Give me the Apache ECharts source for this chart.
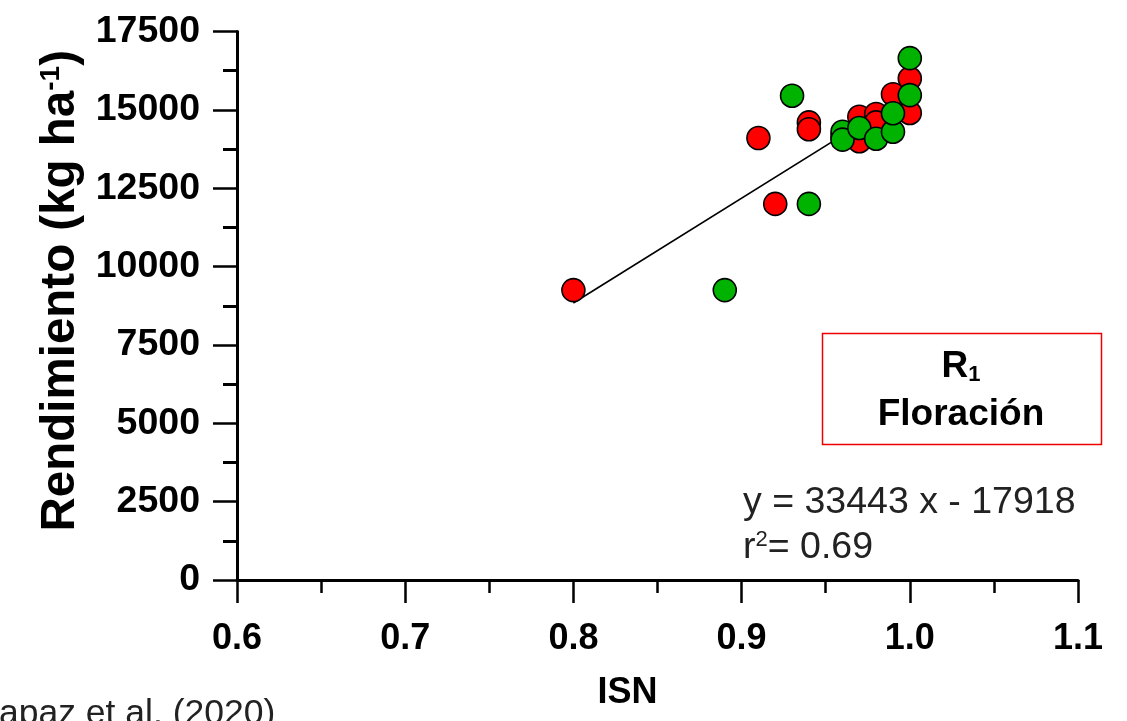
<!DOCTYPE html>
<html>
<head>
<meta charset="utf-8">
<script src="https://cdn.jsdelivr.net/npm/echarts@6/dist/echarts.min.js"></script>
<style>
  html, body { margin: 0; padding: 0; background: #fff; }
  #chart { width: 1127px; height: 721px; }
</style>
</head>
<body>
<div id="chart"></div>
<script>
// ISN (índice de suficiencia de nitrógeno) vs rendimiento, etapa R1
var xTicks = [0.6, 0.7, 0.8, 0.9, 1.0, 1.1];
var yTicks = [0, 2500, 5000, 7500, 10000, 12500, 15000, 17500];

// Tratamientos en rojo: [ISN, rendimiento kg/ha]
var redPoints = [
  [0.80, 9250], [0.91, 14100], [0.92, 12000], [0.94, 14600], [0.94, 14380],
  [0.96, 14150], [0.97, 14780], [0.97, 14000], [0.98, 14870], [0.98, 14600],
  [0.99, 15500], [1.00, 14900], [1.00, 16000]
];
// Tratamientos en verde
var greenPoints = [
  [0.89, 9250], [0.93, 15450], [0.94, 12000], [0.96, 14300], [0.96, 14050],
  [0.97, 14420], [0.98, 14080], [0.99, 14300], [0.99, 14890], [1.00, 15470],
  [1.00, 16650]
];

// Ajuste lineal y = a x + b
var fitSlope = 33443;
var fitIntercept = -17918;
var fitR2 = 0.69;
var fitRange = [0.80, 1.00];

var fitLine = fitRange.map(function (x) { return [x, fitSlope * x + fitIntercept]; });

var FONT = "'Liberation Sans', Arial, Helvetica, sans-serif";
var chart = echarts.init(document.getElementById('chart'), null, { renderer: 'canvas' });

var option = {
  backgroundColor: '#ffffff',
  animation: false,
  grid: { left: 237, right: 49, top: 31.5, bottom: 141, containLabel: false },
  xAxis: {
    type: 'value',
    min: xTicks[0],
    max: xTicks[xTicks.length - 1],
    interval: 0.1,
    name: 'ISN',
    nameLocation: 'middle',
    nameGap: 95,
    nameTextStyle: { fontFamily: FONT, fontWeight: 'bold', fontSize: 36, color: '#000', padding: [0, 60, 0, 0] },
    axisLine: { lineStyle: { color: '#000', width: 3 } },
    axisTick: { length: 23, lineStyle: { color: '#000', width: 2.5 } },
    minorTick: { show: true, splitNumber: 2, length: 13, lineStyle: { color: '#000', width: 2.5 } },
    axisLabel: {
      margin: 41, fontFamily: FONT, fontWeight: 'bold', fontSize: 36, color: '#000',
      formatter: function (v) { return v.toFixed(1); }
    },
    splitLine: { show: false }
  },
  yAxis: {
    type: 'value',
    min: yTicks[0],
    max: yTicks[yTicks.length - 1],
    interval: 2500,
    name: '{t|Rendimiento (kg ha}{s|-1}{t|)}',
    nameLocation: 'middle',
    nameRotate: 90,
    nameGap: 150,
    nameTextStyle: {
      padding: [0, 0, 0, 30],
      rich: {
        t: { fontFamily: FONT, fontWeight: 'bold', fontSize: 47.5, color: '#000' },
        s: { fontFamily: FONT, fontWeight: 'bold', fontSize: 28, color: '#000', verticalAlign: 'top' }
      }
    },
    axisLine: { lineStyle: { color: '#000', width: 3 } },
    axisTick: { length: 24, lineStyle: { color: '#000', width: 2.5 } },
    minorTick: { show: true, splitNumber: 2, length: 14, lineStyle: { color: '#000', width: 3 } },
    axisLabel: {
      margin: 37, fontFamily: FONT, fontWeight: 'bold', fontSize: 37.5, color: '#000',
      formatter: function (v) { return String(v); }
    },
    splitLine: { show: false }
  },
  series: [
    {
      name: 'ajuste',
      type: 'line',
      data: fitLine,
      symbol: 'none',
      lineStyle: { color: '#000', width: 1.6 },
      z: 1
    },
    {
      name: 'rojo',
      type: 'scatter',
      data: redPoints,
      symbol: 'circle',
      symbolSize: 23,
      itemStyle: { color: '#ff0000', borderColor: '#000', borderWidth: 1.6, opacity: 1 },
      z: 2
    },
    {
      name: 'verde',
      type: 'scatter',
      data: greenPoints,
      symbol: 'circle',
      symbolSize: 23,
      itemStyle: { color: '#00b300', borderColor: '#000', borderWidth: 1.6, opacity: 1 },
      z: 3
    }
  ],
  graphic: [
    {
      type: 'rect',
      shape: { x: 822.5, y: 333.5, width: 279, height: 111 },
      style: { fill: 'none', stroke: '#ee0000', lineWidth: 1.5 },
      z: 10
    },
    {
      type: 'text',
      x: 961, y: 367,
      style: {
        text: '{r|R}{b|1}',
        textAlign: 'center', textVerticalAlign: 'middle',
        rich: {
          r: { fontFamily: FONT, fontWeight: 'bold', fontSize: 37, fill: '#000' },
          b: { fontFamily: FONT, fontWeight: 'bold', fontSize: 22, fill: '#000', verticalAlign: 'bottom' }
        }
      },
      z: 10
    },
    {
      type: 'text',
      x: 961, y: 415,
      style: {
        text: 'Floración',
        font: 'bold 37px ' + FONT,
        fill: '#000', textAlign: 'center', textVerticalAlign: 'middle'
      },
      z: 10
    },
    {
      type: 'text',
      x: 743, y: 503,
      style: {
        text: 'y = ' + fitSlope + ' x - ' + Math.abs(fitIntercept),
        font: '37.5px ' + FONT,
        fill: '#222', textAlign: 'left', textVerticalAlign: 'middle'
      },
      z: 10
    },
    {
      type: 'text',
      x: 743, y: 548,
      style: {
        text: '{a|r}{s|2}{a|= ' + fitR2.toFixed(2) + '}',
        textAlign: 'left', textVerticalAlign: 'middle',
        rich: {
          a: { fontFamily: FONT, fontSize: 37.5, fill: '#222' },
          s: { fontFamily: FONT, fontSize: 22, fill: '#222', verticalAlign: 'top' }
        }
      },
      z: 10
    },
    {
      type: 'text',
      x: -1, y: 732,
      style: {
        text: 'apaz et al. (2020)',
        font: '35.5px ' + FONT,
        fill: '#222', textAlign: 'left', textVerticalAlign: 'bottom'
      },
      z: 10
    }
  ]
};

chart.setOption(option);
</script>
</body>
</html>
